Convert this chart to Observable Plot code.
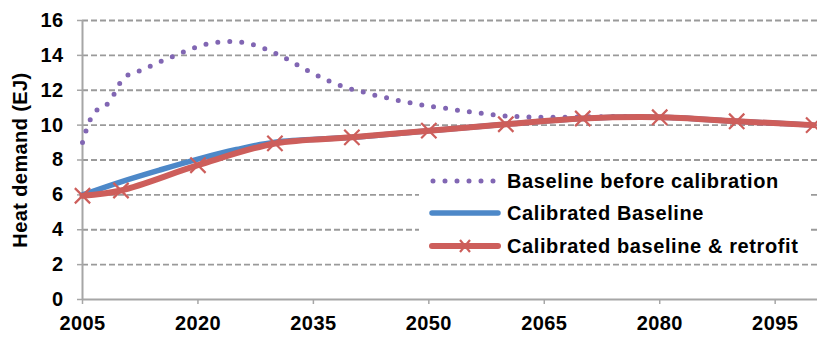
<!DOCTYPE html>
<html>
<head>
<meta charset="utf-8">
<script src="https://cdn.jsdelivr.net/npm/d3@7"></script>
<script src="https://cdn.jsdelivr.net/npm/@observablehq/plot@0.6"></script>
<style>
  html, body { margin: 0; padding: 0; background: #fff; }
  #wrap { position: relative; width: 817px; height: 338px; font-family: "Liberation Sans", Arial, sans-serif; }
  #wrap svg text { letter-spacing: 0.4px; }
  #legend {
    position: absolute; left: 419px; top: 164px; width: 392px; height: 94px;
    background: #fff; font-weight: bold; font-size: 20px; letter-spacing: 0.6px; color: #000;
  }
  #legend .row { position: absolute; left: 10px; height: 24px; display: flex; align-items: center; }
  #legend svg { margin-right: 6px; }
</style>
</head>
<body>
<div id="wrap"></div>
<script>
// Heat demand (EJ) projections, 2005–2100
const uncalYears = [2005, 2006, 2007, 2008, 2009, 2010, 2011, 2012, 2013, 2014, 2015, 2016, 2017, 2018, 2019,
  2020, 2021, 2022, 2023, 2024, 2025, 2026, 2027, 2028, 2029, 2030, 2031, 2032, 2033, 2034, 2035, 2036, 2037,
  2038, 2039, 2040, 2041, 2042, 2043, 2044, 2045, 2046, 2047, 2048, 2049, 2050, 2052, 2054, 2056, 2058, 2060,
  2062, 2065, 2070, 2075, 2080, 2085, 2090, 2095, 2100];
const uncalibrated = [9.0, 10.3, 10.92, 11.12, 11.7, 12.5, 12.9, 13.05, 13.22, 13.42, 13.62, 13.8, 13.98, 14.17, 14.35,
  14.5, 14.64, 14.72, 14.78, 14.8, 14.79, 14.73, 14.63, 14.5, 14.33, 14.14, 13.92, 13.68, 13.43, 13.18, 12.95, 12.73, 12.53,
  12.35, 12.2, 12.05, 11.95, 11.83, 11.71, 11.62, 11.52, 11.42, 11.34, 11.25, 11.16, 11.09, 10.98, 10.84, 10.72, 10.61, 10.52,
  10.48, 10.45, 10.47, 10.49, 10.45, 10.35, 10.22, 10.1, 10.0];

const calYears = [2005, 2010, 2015, 2020, 2025, 2030, 2040, 2050, 2060, 2070, 2080, 2090, 2100];
const calibrated = [6.0, 6.75, 7.42, 8.05, 8.6, 9.02, 9.3, 9.68, 10.05, 10.38, 10.45, 10.22, 10.0];

const retroYears = [2005, 2010, 2020, 2030, 2040, 2050, 2060, 2070, 2080, 2090, 2100];
const retrofit = [5.95, 6.25, 7.7, 8.95, 9.3, 9.68, 10.05, 10.38, 10.45, 10.22, 10.0];

const xTicks = [2005, 2020, 2035, 2050, 2065, 2080, 2095];
const yTicks = [0, 2, 4, 6, 8, 10, 12, 14, 16];
const gridLevels = [2, 4, 6, 8, 10, 12, 14, 16];

const yTitle = "Heat demand (EJ)";
const seriesNames = ["Baseline before calibration", "Calibrated Baseline", "Calibrated baseline & retrofit"];
const colors = { purple: "#8166b3", blue: "#4d88c8", red: "#cd5e5b", grid: "#9a9a9a", axis: "#a6a6a6" };

const uncal = uncalYears.map((year, i) => ({ year, value: uncalibrated[i] }));
const cal = calYears.map((year, i) => ({ year, value: calibrated[i] }));
const retro = retroYears.map((year, i) => ({ year, value: retrofit[i] }));

const chart = Plot.plot({
  width: 817,
  height: 338,
  marginLeft: 82,
  marginRight: 0,
  marginTop: 20,
  marginBottom: 39,
  style: { fontFamily: "'Liberation Sans', Arial, sans-serif", background: "#fff" },
  x: { domain: [2005, 2100.5] },
  y: { domain: [0, 16] },
  marks: [
    Plot.ruleY(gridLevels, { stroke: colors.grid, strokeWidth: 1.8, strokeDasharray: "6,3" }),
    Plot.axisY({
      ticks: yTicks, tickSize: 5, tickPadding: 14, stroke: colors.axis, strokeWidth: 1.5,
      fill: "#000", fontSize: 20, fontWeight: "bold", tickFormat: d => String(d), label: null
    }),
    Plot.axisX({
      ticks: xTicks, tickSize: 5, tickPadding: 11, stroke: colors.axis, strokeWidth: 1.5,
      fill: "#000", fontSize: 20, fontWeight: "bold", tickFormat: d => String(d), label: null
    }),
    Plot.text([yTitle], {
      text: d => d, frameAnchor: "left", textAnchor: "middle", lineAnchor: "middle",
      dx: -62, rotate: -90, fontSize: 20, fontWeight: "bold", fill: "#000"
    }),
    Plot.ruleX([2005], { stroke: colors.axis, strokeWidth: 2 }),
    Plot.ruleY([0], { stroke: colors.axis, strokeWidth: 2 }),
    Plot.line(uncal, {
      x: "year", y: "value", curve: "catmull-rom", stroke: colors.purple,
      strokeWidth: 5, strokeDasharray: "0,12", strokeLinecap: "round"
    }),
    Plot.line(cal, { x: "year", y: "value", curve: "catmull-rom", stroke: colors.blue, strokeWidth: 5.5 }),
    Plot.line(retro, { x: "year", y: "value", curve: "catmull-rom", stroke: colors.red, strokeWidth: 6 }),
    Plot.dot(retro, { x: "year", y: "value", symbol: "times", r: 7, stroke: colors.red, strokeWidth: 2.2 })
  ]
});

const wrap = document.getElementById("wrap");
wrap.appendChild(chart);

// Legend box, drawn over the plot area
const legend = document.createElement("div");
legend.id = "legend";
wrap.appendChild(legend);

const rowTops = [5, 37, 70];
const swatches = [
  `<line x1="4" y1="12" x2="68" y2="12" stroke="${colors.purple}" stroke-width="5" stroke-dasharray="0,12" stroke-linecap="round"/>`,
  `<line x1="3" y1="12" x2="69" y2="12" stroke="${colors.blue}" stroke-width="5.5" stroke-linecap="round"/>`,
  `<line x1="3" y1="12" x2="69" y2="12" stroke="${colors.red}" stroke-width="6" stroke-linecap="round"/>` +
  `<path d="M31,6L41,18M41,6L31,18" stroke="${colors.red}" stroke-width="2.2"/>`
];
seriesNames.forEach((name, i) => {
  const row = document.createElement("div");
  row.className = "row";
  row.style.top = rowTops[i] + "px";
  row.innerHTML = `<svg width="72" height="24">${swatches[i]}</svg><span>${name}</span>`;
  legend.appendChild(row);
});
</script>
</body>
</html>
